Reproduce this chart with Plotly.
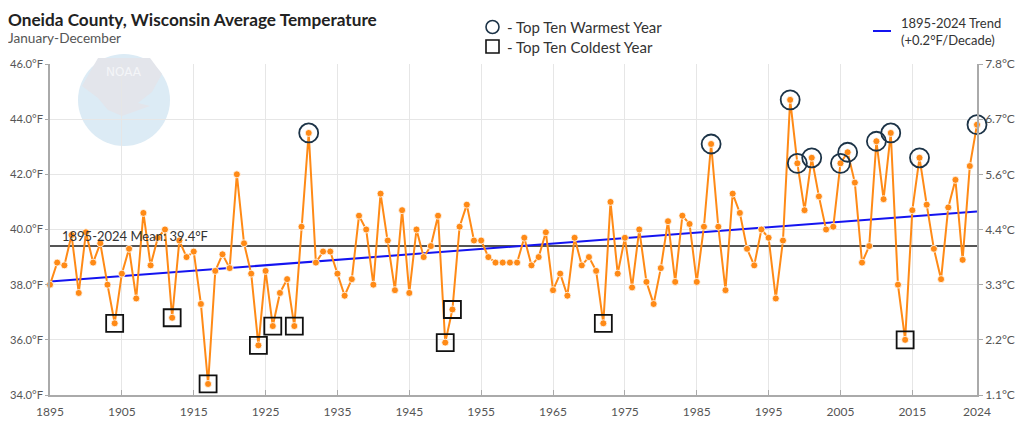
import numpy as np
import plotly.graph_objects as go

years = list(range(1895, 2025))
temps_f = [
    38.0, 38.8, 38.7, 39.8, 37.7, 39.9, 38.8, 39.5, 38.0, 36.6,  # 1895-1904
    38.4, 39.3, 37.5, 40.6, 38.7, 39.7, 40.0, 36.8, 39.6, 39.0,  # 1905-1914
    39.2, 37.3, 34.4, 38.5, 39.1, 38.6, 42.0, 39.5, 38.4, 35.8,  # 1915-1924
    38.5, 36.5, 37.7, 38.2, 36.5, 40.1, 43.5, 38.8, 39.2, 39.2,  # 1925-1934
    38.4, 37.6, 38.2, 40.5, 40.0, 38.0, 41.3, 39.6, 37.8, 40.7,  # 1935-1944
    37.7, 40.0, 39.0, 39.4, 40.5, 35.9, 37.1, 40.1, 40.9, 39.6,  # 1945-1954
    39.6, 39.0, 38.8, 38.8, 38.8, 38.8, 39.7, 38.7, 39.0, 39.9,  # 1955-1964
    37.8, 38.4, 37.6, 39.7, 38.7, 39.0, 38.5, 36.6, 41.0, 38.4,  # 1965-1974
    39.7, 37.9, 40.0, 38.1, 37.3, 38.6, 40.3, 38.1, 40.5, 40.2,  # 1975-1984
    38.1, 40.1, 43.1, 40.1, 37.8, 41.3, 40.6, 39.3, 38.7, 40.0,  # 1985-1994
    39.7, 37.5, 39.6, 44.7, 42.4, 40.7, 42.6, 41.2, 40.0, 40.1,  # 1995-2004
    42.4, 42.8, 41.7, 38.8, 39.4, 43.2, 41.1, 43.5, 38.0, 36.0,  # 2005-2014
    40.7, 42.6, 40.9, 39.3, 38.2, 40.8, 41.8, 38.9, 42.3, 43.8,  # 2015-2024
]
warm_years = [1931, 1987, 1998, 1999, 2001, 2005, 2006, 2010, 2012, 2016, 2024]
cold_years = [1904, 1912, 1917, 1924, 1926, 1929, 1950, 1951, 1972, 2014]
mean_f = 39.4
x_ticks = [1895, 1905, 1915, 1925, 1935, 1945, 1955, 1965, 1975, 1985, 1995, 2005, 2015, 2024]
y_ticks_f = [34, 36, 38, 40, 42, 44, 46]
y_ticks_c = ["1.1°C", "2.2°C", "3.3°C", "4.4°C", "5.6°C", "6.7°C", "7.8°C"]

W, H = 1024, 432
OFF = 8  # page body margin
L, R, T, B = 50, 977, 64, 395  # plot area in page pixels

def px(x):
    return (x - L) / (R - L)

def py(y):
    return (B - y) / (B - T)

lookup = dict(zip(years, temps_f))
slope, intercept = np.polyfit(years, temps_f, 1)
trend = [slope * y + intercept for y in years]

ORANGE = "#ff8a16"
fig = go.Figure()

fig.add_trace(go.Scatter(x=[years[0], years[-1]], y=[mean_f, mean_f], mode="lines",
                         line=dict(color="#555555", width=2), hoverinfo="skip", showlegend=False))
fig.add_trace(go.Scatter(x=years, y=trend, mode="lines",
                         line=dict(color="#1414f0", width=2), hoverinfo="skip", showlegend=False))
fig.add_trace(go.Scatter(x=years, y=temps_f, mode="lines+markers",
                         line=dict(color=ORANGE, width=2),
                         marker=dict(color=ORANGE, size=7, line=dict(color="white", width=0.8)),
                         cliponaxis=False, showlegend=False))
fig.add_trace(go.Scatter(x=warm_years, y=[lookup[y] for y in warm_years], mode="markers",
                         marker=dict(symbol="circle-open", size=19, color="#1c3347", line=dict(width=1.8)),
                         cliponaxis=False, showlegend=False))
fig.add_trace(go.Scatter(x=cold_years, y=[lookup[y] for y in cold_years], mode="markers",
                         marker=dict(symbol="square-open", size=17, color="#111111", line=dict(width=1.8)),
                         cliponaxis=False, showlegend=False))
fig.add_trace(go.Scatter(x=[years[0]], y=[mean_f], yaxis="y2", mode="markers",
                         marker=dict(opacity=0), hoverinfo="skip", showlegend=False))

shapes = []
cx, cy, r = 124, 100, 46
shapes.append(dict(type="circle", xref="paper", yref="paper", layer="below",
                   x0=px(cx - r), x1=px(cx + r), y0=py(cy + r), y1=py(cy - r),
                   fillcolor="#dcebf5", line=dict(width=0)))
path_pts = [(98, 58), (150, 58), (162, 74), (152, 92), (138, 103), (150, 106), (122, 116),
            (108, 110), (98, 98), (82, 86), (90, 72)]
path = "M " + " L ".join(f"{px(x):.4f},{py(y):.4f}" for x, y in path_pts) + " Z"
shapes.append(dict(type="path", xref="paper", yref="paper", layer="below", path=path,
                   fillcolor="#e3e5eb", line=dict(width=0)))
shapes.append(dict(type="circle", xref="paper", yref="paper",
                   x0=px(486), x1=px(499), y0=py(33.5), y1=py(20.5),
                   line=dict(color="#1c3347", width=1.6)))
shapes.append(dict(type="rect", xref="paper", yref="paper",
                   x0=px(486), x1=px(499), y0=py(53), y1=py(40),
                   line=dict(color="#111111", width=1.6)))
shapes.append(dict(type="line", xref="paper", yref="paper",
                   x0=px(873), x1=px(891), y0=py(31), y1=py(31),
                   line=dict(color="#1414f0", width=2)))

annotations = [
    dict(text="<b>Oneida County, Wisconsin Average Temperature</b>", xref="paper", yref="paper",
         x=px(7), y=py(8.2), xanchor="left", yanchor="top", showarrow=False, borderpad=0,
         font=dict(family="Lato", size=17.2, color="#222222")),
    dict(text="January-December", xref="paper", yref="paper",
         x=px(7), y=py(29.4), xanchor="left", yanchor="top", showarrow=False, borderpad=0,
         font=dict(family="Lato", size=13.6, color="#555555")),
    dict(text="NOAA", xref="paper", yref="paper", x=px(124), y=py(72), xanchor="center",
         yanchor="middle", showarrow=False, font=dict(family="DejaVu Sans", size=12, color="#f4f5f8")),
    dict(text="- Top Ten Warmest Year", xref="paper", yref="paper", x=px(505), y=py(27),
         xanchor="left", yanchor="middle", showarrow=False,
         font=dict(family="Lato", size=15, color="#333333")),
    dict(text="- Top Ten Coldest Year", xref="paper", yref="paper", x=px(505), y=py(47),
         xanchor="left", yanchor="middle", showarrow=False,
         font=dict(family="Lato", size=15, color="#333333")),
    dict(text="1895-2024 Trend<br>(+0.2°F/Decade)", xref="paper", yref="paper", x=px(899), y=py(31),
         xanchor="left", yanchor="middle", align="left", showarrow=False,
         font=dict(family="Lato", size=13, color="#333333")),
    dict(text=f"1895-2024 Mean: {mean_f:.1f}°F", x=years[0], y=mean_f, xref="x", yref="y",
         xanchor="left", yanchor="bottom", xshift=10, yshift=0, showarrow=False,
         font=dict(family="Lato", size=13, color="#333333")),
]

axis_font = dict(family="Lato", size=12, color="#555555")
y_font = dict(family="Lato", size=11.2, color="#555555")
fig.update_layout(
    width=W, height=H,
    margin=dict(l=L - OFF, r=W + OFF - R, t=T - OFF, b=H + OFF - B, autoexpand=False),
    plot_bgcolor="white", paper_bgcolor="white",
    shapes=shapes, annotations=annotations,
    xaxis=dict(range=[1895, 2024], tickvals=x_ticks, ticktext=[str(v) for v in x_ticks],
               automargin=False, ticklabelstandoff=5,
               showgrid=True, gridcolor="#e6e6e6", gridwidth=1, zeroline=False,
               showline=True, linecolor="#aaaaaa", linewidth=1.5,
               ticks="inside", ticklen=5, tickcolor="#aaaaaa", tickfont=axis_font),
    yaxis=dict(range=[34, 46], tickvals=y_ticks_f, ticktext=[f"{v:.1f}°F" for v in y_ticks_f],
               automargin=False,
               showgrid=True, gridcolor="#e6e6e6", gridwidth=1, zeroline=False,
               showline=True, linecolor="#aaaaaa", linewidth=1.5,
               ticks="outside", ticklen=3, tickcolor="#aaaaaa", tickfont=y_font),
    yaxis2=dict(range=[34, 46], overlaying="y", side="right", tickvals=y_ticks_f, ticktext=y_ticks_c,
                automargin=False,
                showgrid=False, zeroline=False, showline=True, linecolor="#aaaaaa", linewidth=1.5,
                ticks="outside", ticklen=4, tickcolor="#aaaaaa", tickfont=axis_font),
)

fig.write_html("out.html")
